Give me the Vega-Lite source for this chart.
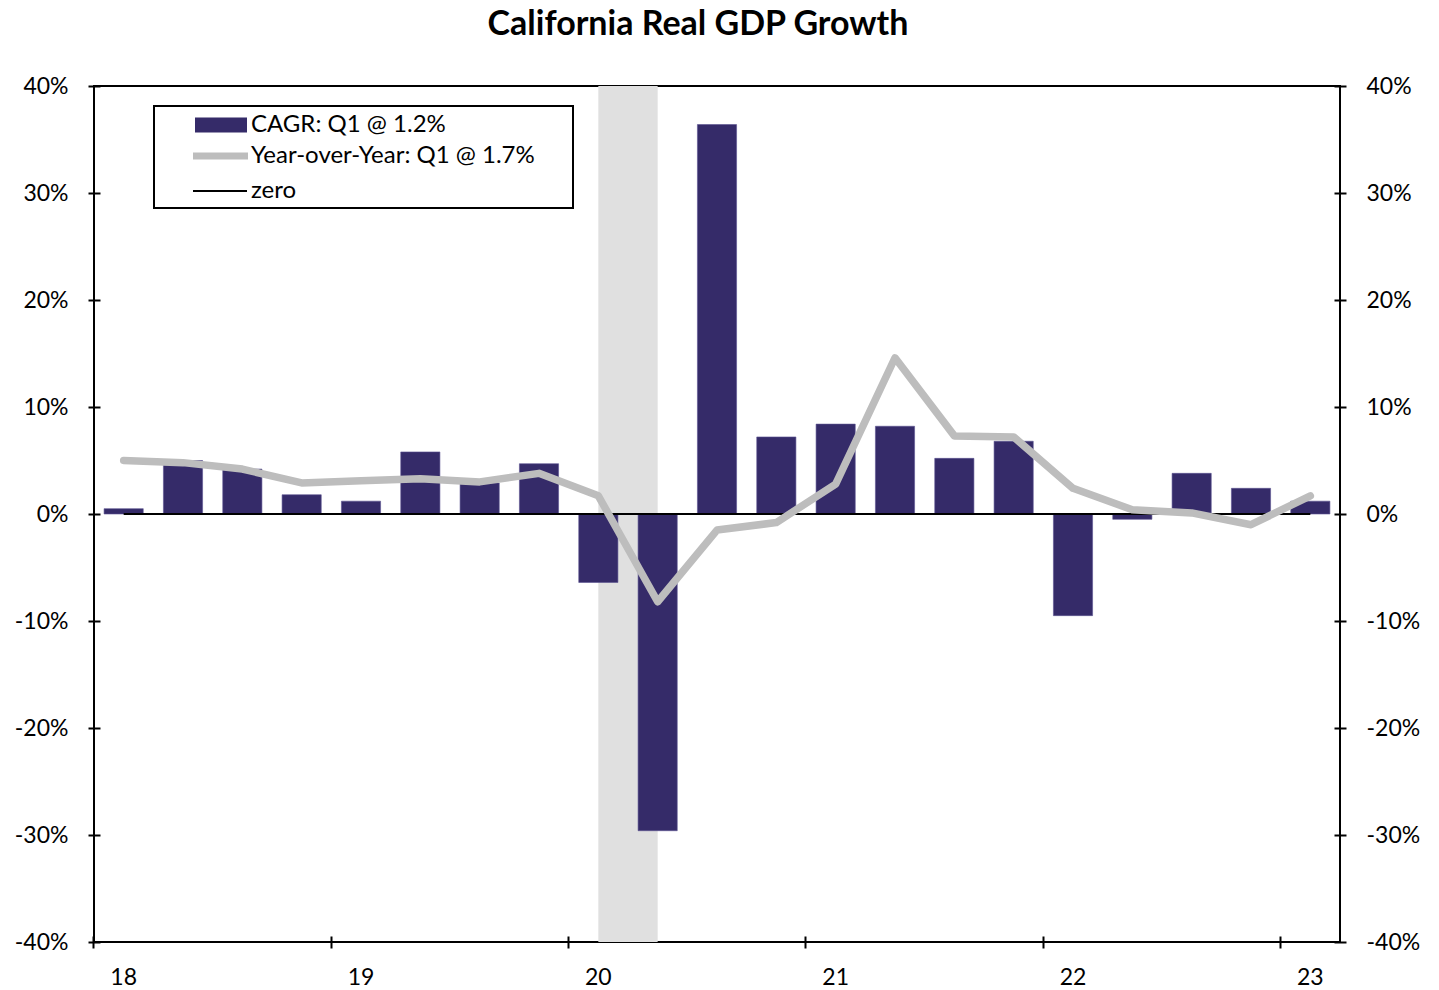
{
  "$schema": "https://vega.github.io/schema/vega-lite/v6.json",
  "width": 1246,
  "height": 856,
  "autosize": {"type": "none"},
  "padding": {"left": 94, "top": 86, "right": 99, "bottom": 48},
  "background": "white",
  "title": {
    "text": "California Real GDP Growth",
    "font": "Lato",
    "fontSize": 34,
    "fontWeight": "bold",
    "color": "black",
    "anchor": "middle",
    "frame": "group",
    "baseline": "alphabetic",
    "offset": 6,
    "dx": -19
  },
  "config": {
    "view": {"stroke": "black", "strokeWidth": 2},
    "scale": {"bandPaddingInner": 0.34, "bandPaddingOuter": 0.17},
    "axis": {
      "labelFont": "Lato",
      "labelFontSize": 23,
      "labelColor": "black",
      "tickColor": "black",
      "tickWidth": 2,
      "tickSize": 12,
      "offset": -6,
      "domain": false,
      "grid": false
    },
    "legend": {
      "title": null,
      "orient": "none",
      "direction": "vertical",
      "padding": 0,
      "strokeWidth": 2,
      "symbolSize": 100,
      "symbolOpacity": 1,
      "labelLimit": 600,
      "labelFont": "Lato",
      "labelFontSize": 24,
      "labelColor": "black"
    }
  },
  "datasets": {
    "gdp": [
      {"quarter": "2018Q1", "cagr": 0.5, "yoy": 5.0},
      {"quarter": "2018Q2", "cagr": 5.0, "yoy": 4.8},
      {"quarter": "2018Q3", "cagr": 4.2, "yoy": 4.2},
      {"quarter": "2018Q4", "cagr": 1.8, "yoy": 2.9},
      {"quarter": "2019Q1", "cagr": 1.2, "yoy": 3.1},
      {"quarter": "2019Q2", "cagr": 5.8, "yoy": 3.3},
      {"quarter": "2019Q3", "cagr": 2.9, "yoy": 3.0},
      {"quarter": "2019Q4", "cagr": 4.7, "yoy": 3.8},
      {"quarter": "2020Q1", "cagr": -6.4, "yoy": 1.7},
      {"quarter": "2020Q2", "cagr": -29.6, "yoy": -8.2},
      {"quarter": "2020Q3", "cagr": 36.4, "yoy": -1.5},
      {"quarter": "2020Q4", "cagr": 7.2, "yoy": -0.8},
      {"quarter": "2021Q1", "cagr": 8.4, "yoy": 2.8},
      {"quarter": "2021Q2", "cagr": 8.2, "yoy": 14.6},
      {"quarter": "2021Q3", "cagr": 5.2, "yoy": 7.3},
      {"quarter": "2021Q4", "cagr": 6.8, "yoy": 7.2},
      {"quarter": "2022Q1", "cagr": -9.5, "yoy": 2.4},
      {"quarter": "2022Q2", "cagr": -0.5, "yoy": 0.4},
      {"quarter": "2022Q3", "cagr": 3.8, "yoy": 0.1},
      {"quarter": "2022Q4", "cagr": 2.4, "yoy": -1.0},
      {"quarter": "2023Q1", "cagr": 1.2, "yoy": 1.7}
    ],
    "recessions": [
      {"start": "2020Q1", "end": "2020Q2"}
    ]
  },
  "layer": [
    {
      "data": {"name": "recessions"},
      "mark": {"type": "rect", "color": "#E0E0E0"},
      "encoding": {
        "x": {
          "field": "start",
          "type": "ordinal",
          "bandPosition": 0.5,
          "axis": {
            "title": null,
            "values": ["2018Q1", "2019Q1", "2020Q1", "2021Q1", "2022Q1", "2023Q1"],
            "labelExpr": "substring(datum.value, 2, 4)",
            "labelAngle": 0,
            "bandPosition": -0.2576,
            "labelPadding": 18
          }
        },
        "x2": {"field": "end", "bandPosition": 0.5}
      }
    },
    {
      "data": {"name": "gdp"},
      "mark": {"type": "bar", "stroke": "#5A5290", "strokeWidth": 0.6},
      "encoding": {
        "x": {"field": "quarter", "type": "ordinal", "title": null},
        "y": {
          "field": "cagr",
          "type": "quantitative",
          "scale": {"domain": [-40, 40], "nice": false, "zero": false},
          "axis": {
            "title": null,
            "orient": "left",
            "values": [-40, -30, -20, -10, 0, 10, 20, 30, 40],
            "labelExpr": "datum.value + '%'",
            "labelPadding": 20
          }
        },
        "color": {
          "datum": "CAGR: Q1 @ 1.2%",
          "scale": {"range": ["#352B69"]},
          "legend": {
            "legendX": 98,
            "legendY": 27,
            "symbolType": "M-5.2,-1.5H5.2V1.5H-5.2Z",
            "symbolStrokeWidth": 0,
            "symbolOffset": 17,
            "labelOffset": 18
          }
        }
      }
    },
    {
      "data": {"name": "gdp"},
      "mark": {"type": "line", "strokeWidth": 2},
      "encoding": {
        "x": {"field": "quarter", "type": "ordinal", "title": null},
        "y": {"datum": 0, "type": "quantitative", "axis": null},
        "color": {
          "datum": "zero",
          "scale": {"range": ["#000000"]},
          "legend": {
            "legendX": 98,
            "legendY": 93,
            "symbolType": "M-5.4,0H5.4",
            "symbolStrokeWidth": 2,
            "symbolOffset": 16,
            "labelOffset": 19
          }
        }
      }
    },
    {
      "data": {"name": "gdp"},
      "mark": {"type": "line", "strokeWidth": 7.5, "strokeCap": "round", "strokeJoin": "round"},
      "encoding": {
        "x": {"field": "quarter", "type": "ordinal", "title": null},
        "y": {
          "field": "yoy",
          "type": "quantitative",
          "axis": {
            "title": null,
            "orient": "right",
            "values": [-40, -30, -20, -10, 0, 10, 20, 30, 40],
            "labelExpr": "datum.value + '%'",
            "labelPadding": 20
          }
        },
        "color": {
          "datum": "Year-over-Year: Q1 @ 1.7%",
          "scale": {"range": ["#BDBDBD"]},
          "legend": {
            "legendX": 60,
            "legendY": 20,
            "padding": 38,
            "strokeColor": "black",
            "symbolType": "M-5.5,0H5.5",
            "symbolStrokeWidth": 7,
            "symbolOffset": 16.5,
            "labelOffset": 18.5
          }
        }
      }
    }
  ],
  "resolve": {"axis": {"y": "independent"}, "scale": {"color": "independent"}}
}
